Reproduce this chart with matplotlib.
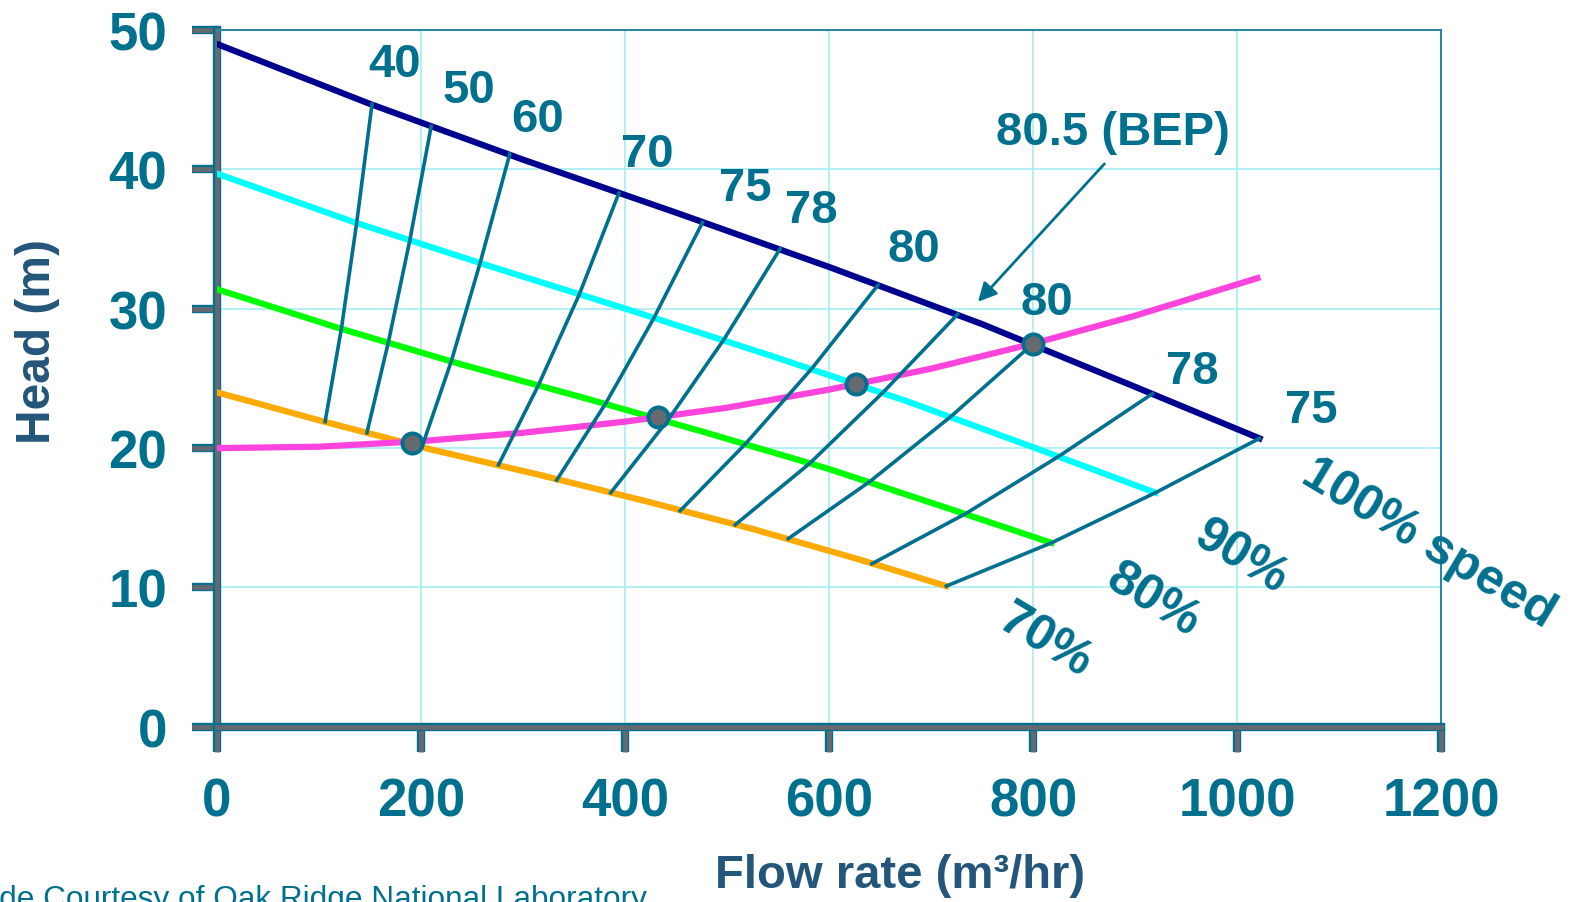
import matplotlib
matplotlib.use('Agg')
import matplotlib.pyplot as plt
import matplotlib.patheffects as pe

plt.rcParams['font.family'] = ['Liberation Sans', 'DejaVu Sans']

# pump curves at four speeds (flow m3/hr, head m)
q_100 = [0, 150, 300, 450, 600, 750, 900, 1022]
h_100 = [49.0, 44.7, 40.7, 36.9, 33.0, 28.9, 24.4, 20.7]
q_90 = [0, 135, 270, 405, 540, 675, 810, 920]
h_90 = [39.7, 36.2, 33.0, 29.9, 26.7, 23.4, 19.8, 16.8]
q_80 = [0, 120, 240, 360, 480, 600, 720, 818]
h_80 = [31.4, 28.6, 26.0, 23.6, 21.1, 18.5, 15.6, 13.2]
q_70 = [0, 105, 210, 315, 420, 525, 630, 715]
h_70 = [24.0, 21.9, 19.9, 18.1, 16.2, 14.2, 12.0, 10.1]

# system curve
q_sys = [0, 100, 200, 300, 400, 500, 600, 700, 800, 900, 1020]
h_sys = [20.0, 20.1, 20.5, 21.1, 21.9, 22.9, 24.2, 25.7, 27.5, 29.5, 32.2]

# operating points
q_op = [191, 432, 626, 800]
h_op = [20.4, 22.2, 24.6, 27.5]

# iso-efficiency lines, points at 100/90/80/70 % speed
eff_q = [
    [152, 137, 122, 106],
    [210, 189, 168, 147],
    [287, 258, 230, 201],
    [394, 355, 315, 276],
    [476, 428, 381, 333],
    [552, 497, 442, 386],
    [648, 583, 518, 454],
    [726, 653, 581, 508],
    [800, 720, 640, 560],
    [917, 825, 734, 642],
    [1022, 920, 818, 715],
]
eff_h = [
    [44.7, 36.2, 28.6, 21.9],
    [43.1, 34.9, 27.6, 21.1],
    [41.1, 33.3, 26.3, 20.1],
    [38.3, 31.0, 24.5, 18.8],
    [36.2, 29.3, 23.2, 17.7],
    [34.3, 27.8, 22.0, 16.8],
    [31.7, 25.7, 20.3, 15.5],
    [29.6, 24.0, 18.9, 14.5],
    [27.5, 22.3, 17.6, 13.5],
    [23.9, 19.4, 15.3, 11.7],
    [20.7, 16.8, 13.2, 10.1],
]

# efficiency labels
eff_labels = ['40', '50', '60', '70', '75', '78', '80', '80', '78', '75']
eff_lab_q = [174, 247, 314, 422, 518, 583, 683, 814, 956, 1073]
eff_lab_h = [47.6, 45.7, 43.6, 41.1, 38.7, 37.1, 34.3, 30.5, 25.5, 22.7]

speed_labels = ['100% speed', '90%', '80%', '70%']
speed_lab_q = [1188, 1004, 918, 812]
speed_lab_h = [13.2, 12.2, 9.1, 6.2]

bep_text = '80.5 (BEP)'
bep_text_pos = (878, 42.7)
bep_arrow_tail = (870, 40.4)
bep_arrow_head = (746, 30.5)

teal = '#00708f'
slate = '#23567a'
gray = '#666a70'

fig = plt.figure(figsize=(15.77, 9.03), dpi=100)
ax = fig.add_axes([0.1376, 0.194, 0.7762, 0.7716])

ax.set_xlim(0, 1200)
ax.set_ylim(0, 50)
ax.set_xticks(range(0, 1201, 200))
ax.set_yticks(range(0, 51, 10))
ax.grid(True, color='#a4eef4', lw=1.2)
ax.set_axisbelow(True)

ax.plot(q_100, h_100, color='#00008f', lw=4.5, zorder=3)
ax.plot(q_90, h_90, color='#00ffff', lw=4.5, zorder=3)
ax.plot(q_80, h_80, color='#00ff00', lw=4.5, zorder=3)
ax.plot(q_70, h_70, color='#ffaa00', lw=4.5, zorder=3)
ax.plot(q_sys, h_sys, color='#ff44dd', lw=4.5, zorder=3)

for qs, hs in zip(eff_q, eff_h):
    ax.plot(qs, hs, color=teal, lw=2.6, zorder=4)

ax.plot(q_op, h_op, 'o', ms=14.5, mfc=gray, mec=teal, mew=2.8, zorder=5)

for t, x, y in zip(eff_labels, eff_lab_q, eff_lab_h):
    ax.text(x, y, t, color=teal, fontsize=34, fontweight='bold', ha='center', va='center')

for t, x, y in zip(speed_labels, speed_lab_q, speed_lab_h):
    ax.text(x, y, t, color=teal, fontsize=36, fontweight='bold', ha='center', va='center',
            rotation=-31, rotation_mode='anchor', clip_on=False)

ax.text(bep_text_pos[0], bep_text_pos[1], bep_text, color=teal, fontsize=34,
        fontweight='bold', ha='center', va='center')
ax.annotate('', xy=bep_arrow_head, xytext=bep_arrow_tail,
            arrowprops=dict(arrowstyle='-|>', color=teal, lw=2, mutation_scale=28,
                            shrinkA=0, shrinkB=0))

# axes frame
for side in ['top', 'right']:
    ax.spines[side].set_color('#2a86a2')
    ax.spines[side].set_linewidth(1.5)
for side in ['left', 'bottom']:
    ax.spines[side].set_color(gray)
    ax.spines[side].set_linewidth(3.5)
    ax.spines[side].set_path_effects([pe.Stroke(linewidth=6, foreground=teal), pe.Normal()])

ax.tick_params(axis='both', direction='out', length=18, width=3.5, color=gray,
               labelcolor=teal, labelsize=38, pad=18)
for tl in ax.xaxis.get_ticklines() + ax.yaxis.get_ticklines():
    tl.set_path_effects([pe.Stroke(linewidth=6, foreground=teal), pe.Normal()])
for lab in ax.get_xticklabels() + ax.get_yticklabels():
    lab.set_fontweight('bold')

ax.set_xlabel('Flow rate (m³/hr)', color=slate, fontsize=34, fontweight='bold')
ax.xaxis.set_label_coords(0.558, -0.181)
ax.set_ylabel('Head (m)', color=slate, fontsize=34.5, fontweight='bold')
ax.yaxis.set_label_coords(-0.128, 0.554)

fig.text(-0.023, -0.005, 'Slide Courtesy of Oak Ridge National Laboratory', color=teal,
         fontsize=22.7, ha='left', va='baseline')

fig.savefig('out.png', dpi=100)
